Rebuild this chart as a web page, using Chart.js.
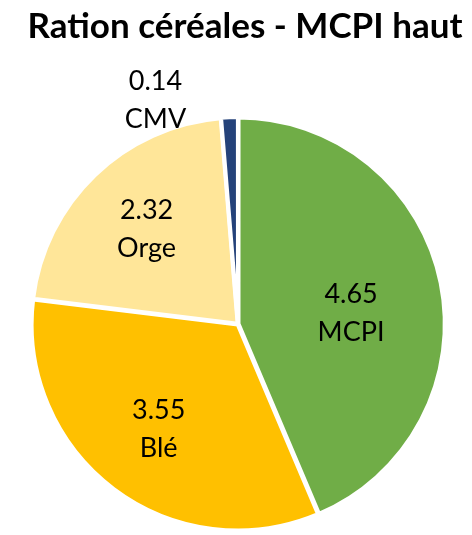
<!DOCTYPE html>
<html><head><meta charset="utf-8">
<script src="https://cdn.jsdelivr.net/npm/chart.js@4/dist/chart.umd.min.js"></script>
<style>html,body{margin:0;padding:0;background:#fff;}#wrap{width:472px;height:535px;position:relative;}</style>
</head><body><div id="wrap"><canvas id="c" width="472" height="535"></canvas></div>
<script>
const title = "Ration céréales - MCPI haut";
const categories = ["MCPI", "Blé", "Orge", "CMV"];
const values = [4.65, 3.55, 2.32, 0.14];
const valueLabels = ["4.65", "3.55", "2.32", "0.14"];
const colors = ["#70AD47", "#FFC000", "#FFE699", "#24427A"];

const FONT = "Lato, 'Open Sans', sans-serif";

const labelPlugin = {
  id: 'labels',
  afterDraw(chart) {
    const ctx = chart.ctx;
    ctx.save();
    let fs = 30;
    ctx.font = "bold " + fs + "px " + FONT;
    const w = ctx.measureText(title).width;
    fs = fs * 435 / w;
    ctx.font = "bold " + fs + "px " + FONT;
    ctx.fillStyle = "#000";
    ctx.textAlign = "center";
    ctx.textBaseline = "middle";
    ctx.fillText(title, 245, 27);

    const meta = chart.getDatasetMeta(0);
    ctx.font = "27px " + FONT;
    meta.data.forEach((arc, i) => {
      const p = arc.getProps(['x','y','startAngle','endAngle','outerRadius'], true);
      const mid = (p.startAngle + p.endAngle) / 2;
      let lx, ly;
      if (categories[i] === "CMV") {
        lx = p.x + Math.cos(mid) * p.outerRadius - 74;
        ly = p.y + Math.sin(mid) * p.outerRadius - 18;
      } else if (categories[i] === "MCPI") {
        lx = p.x + Math.cos(mid) * p.outerRadius * 0.56;
        ly = p.y + Math.sin(mid) * p.outerRadius * 0.56 + 12;
      } else {
        lx = p.x + Math.cos(mid) * p.outerRadius * 0.64;
        ly = p.y + Math.sin(mid) * p.outerRadius * 0.64;
      }
      ctx.fillText(valueLabels[i], lx, ly - 19);
      ctx.fillText(categories[i], lx, ly + 19);
    });
    ctx.restore();
  }
};

new Chart(document.getElementById('c'), {
  type: 'pie',
  data: {
    labels: categories,
    datasets: [{
      data: values,
      backgroundColor: colors,
      borderColor: "#FFFFFF",
      borderWidth: 4,
      offset: 2
    }]
  },
  options: {
    responsive: false,
    animation: false,
    layout: { padding: { top: 113, left: 29, right: 25, bottom: 0 } },
    plugins: {
      legend: { display: false },
      title: { display: false },
      tooltip: { enabled: false }
    }
  },
  plugins: [labelPlugin]
});
</script></body></html>
